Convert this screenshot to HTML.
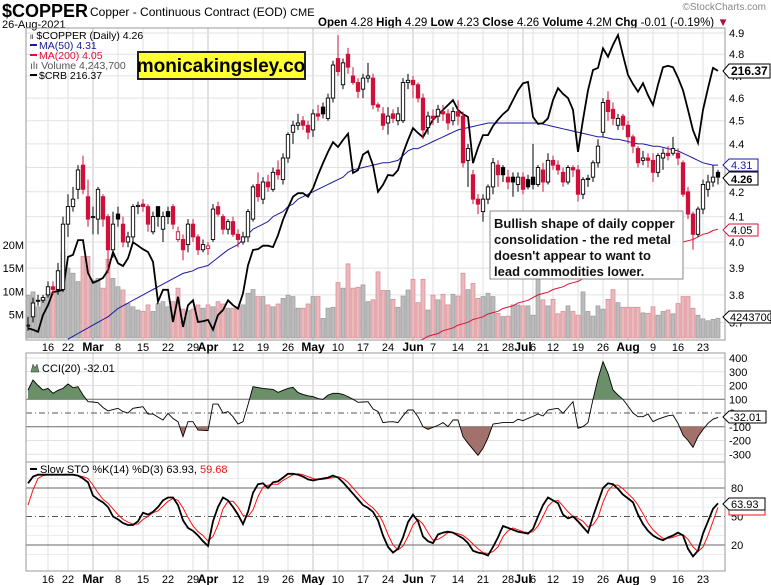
<!DOCTYPE html>
<html><head><meta charset="utf-8"><style>
html,body{margin:0;padding:0;background:#fff;}
svg{display:block;font-family:"Liberation Sans",Arial,sans-serif;}
</style></head><body>
<svg id="c" width="771" height="585" viewBox="0 0 771 585" xmlns="http://www.w3.org/2000/svg">
<defs>
<clipPath id="mainClip"><rect x="26" y="28" width="699" height="312"/></clipPath>
<clipPath id="cciUp"><rect x="26" y="353" width="699" height="46.25"/></clipPath>
<clipPath id="cciDn"><rect x="26" y="426.75" width="699" height="35"/></clipPath>
</defs>
<rect x="0" y="0" width="771" height="585" fill="#fff"/>
<text x="2" y="17" font-size="18" font-weight="bold" fill="#000">$COPPER</text>
<text x="90" y="16" font-size="12" fill="#000">Copper - Continuous Contract (EOD) <tspan font-size="11">CME</tspan></text>
<text x="2" y="28" font-size="11" fill="#000">26-Aug-2021</text>
<text x="766" y="10" font-size="10" fill="#888" text-anchor="end">©StockCharts.com</text>
<text x="318" y="26" font-size="11.5" fill="#000"><tspan font-weight="bold">Open</tspan> 4.28  <tspan font-weight="bold">High</tspan> 4.29  <tspan font-weight="bold">Low</tspan> 4.23  <tspan font-weight="bold">Close</tspan> 4.26  <tspan font-weight="bold">Volume</tspan> 4.2M  <tspan font-weight="bold">Chg</tspan> -0.01 (-0.19%) <tspan fill="#b0103a">▼</tspan></text>
<g id="grid"></g>
<g id="volume" clip-path="url(#mainClip)"></g>
<g id="ma" clip-path="url(#mainClip)"></g>
<g id="crb" clip-path="url(#mainClip)"></g>
<g id="candles" clip-path="url(#mainClip)"></g>
<g id="cci"></g>
<g id="sto"></g>
<g id="frames"></g>
<g id="labels"></g>
</svg>
<script>
const tickLabels=["16","22","Mar","8","15","22","29","Apr","12","19","26","May","10","17","24","Jun","7","14","21","28","Jul","6","12","19","26","Aug","9","16","23"];
const tickIdx=[4,8,13,18,23,28,33,36,42,47,52,57,62,67,72,77,81,86,91,96,99,101,105,110,115,120,125,130,135];
const opens=[3.69,3.72,3.78,3.78,3.80,3.83,3.82,3.82,4.07,4.14,4.21,4.31,4.18,4.10,4.09,4.18,4.10,3.97,4.11,4.07,4.00,4.02,4.14,4.15,4.14,4.04,4.14,4.05,4.12,4.14,4.01,4.01,3.99,4.07,4.02,3.97,3.975,4.01,4.14,4.10,4.05,4.08,4.03,4.00,4.02,4.09,4.23,4.17,4.24,4.21,4.29,4.25,4.34,4.45,4.48,4.50,4.48,4.46,4.53,4.56,4.51,4.60,4.78,4.66,4.80,4.70,4.67,4.64,4.69,4.69,4.57,4.53,4.49,4.53,4.50,4.50,4.67,4.68,4.66,4.60,4.47,4.52,4.52,4.54,4.53,4.50,4.54,4.52,4.33,4.27,4.17,4.12,4.17,4.22,4.31,4.30,4.26,4.26,4.23,4.26,4.25,4.26,4.23,4.29,4.24,4.33,4.31,4.28,4.24,4.30,4.29,4.19,4.25,4.26,4.32,4.45,4.59,4.55,4.48,4.52,4.48,4.43,4.38,4.33,4.34,4.33,4.28,4.34,4.36,4.36,4.36,4.32,4.20,4.11,4.03,4.13,4.21,4.24,4.28];
const highs=[3.72,3.79,3.80,3.80,3.85,3.85,3.92,4.10,4.19,4.22,4.31,4.35,4.25,4.14,4.22,4.19,4.11,4.12,4.14,4.10,4.04,4.15,4.16,4.17,4.15,4.12,4.14,4.12,4.14,4.15,4.06,4.03,4.09,4.09,4.03,4.01,4.00,4.15,4.16,4.11,4.09,4.10,4.05,4.04,4.13,4.23,4.28,4.26,4.27,4.30,4.33,4.36,4.45,4.50,4.53,4.52,4.50,4.55,4.57,4.58,4.62,4.77,4.89,4.78,4.83,4.74,4.69,4.71,4.76,4.71,4.58,4.56,4.56,4.55,4.56,4.69,4.71,4.70,4.67,4.62,4.54,4.55,4.57,4.57,4.55,4.56,4.59,4.54,4.40,4.29,4.19,4.19,4.23,4.34,4.33,4.31,4.29,4.28,4.28,4.28,4.27,4.40,4.31,4.32,4.36,4.35,4.33,4.30,4.31,4.31,4.31,4.26,4.27,4.33,4.42,4.60,4.63,4.58,4.53,4.53,4.50,4.44,4.39,4.37,4.36,4.36,4.36,4.38,4.39,4.43,4.38,4.33,4.22,4.12,4.14,4.25,4.27,4.31,4.29];
const lows=[3.67,3.70,3.76,3.77,3.79,3.80,3.80,3.81,4.02,4.12,4.17,4.19,4.06,4.03,4.03,4.06,3.88,3.94,4.06,3.98,3.98,4.00,4.11,4.12,4.04,4.03,4.06,4.00,4.07,4.05,4.00,3.93,3.96,4.00,3.95,3.96,3.95,4.00,4.10,4.03,4.03,4.02,3.98,3.99,4.00,4.08,4.16,4.15,4.20,4.20,4.25,4.23,4.32,4.40,4.46,4.46,4.42,4.43,4.50,4.51,4.50,4.58,4.70,4.64,4.71,4.66,4.60,4.60,4.67,4.55,4.54,4.46,4.44,4.49,4.48,4.49,4.64,4.60,4.58,4.42,4.44,4.48,4.49,4.50,4.46,4.48,4.48,4.30,4.22,4.15,4.11,4.08,4.15,4.19,4.22,4.24,4.21,4.18,4.20,4.19,4.21,4.21,4.22,4.20,4.23,4.29,4.27,4.22,4.23,4.26,4.16,4.17,4.22,4.24,4.30,4.43,4.50,4.48,4.46,4.46,4.40,4.36,4.30,4.31,4.30,4.24,4.26,4.29,4.33,4.35,4.31,4.18,4.09,3.97,4.02,4.11,4.18,4.22,4.23];
const closes=[3.69,3.77,3.78,3.79,3.83,3.82,3.89,4.07,4.14,4.17,4.29,4.21,4.09,4.10,4.21,4.09,3.97,4.07,4.09,4.00,4.02,4.14,4.145,4.14,4.07,4.10,4.10,4.10,4.10,4.07,4.04,3.97,4.07,4.02,3.97,3.99,3.985,4.13,4.11,4.05,4.08,4.03,4.01,4.02,4.12,4.22,4.18,4.24,4.22,4.28,4.27,4.34,4.44,4.48,4.49,4.48,4.45,4.53,4.52,4.53,4.60,4.75,4.72,4.76,4.74,4.67,4.63,4.69,4.70,4.57,4.56,4.48,4.52,4.51,4.53,4.67,4.68,4.66,4.60,4.46,4.52,4.51,4.55,4.53,4.49,4.54,4.52,4.32,4.38,4.17,4.15,4.17,4.22,4.32,4.27,4.27,4.24,4.24,4.26,4.21,4.22,4.23,4.30,4.24,4.33,4.31,4.29,4.24,4.30,4.29,4.19,4.25,4.255,4.32,4.39,4.58,4.54,4.51,4.51,4.48,4.43,4.39,4.32,4.34,4.33,4.28,4.35,4.36,4.35,4.38,4.34,4.19,4.11,4.03,4.13,4.23,4.24,4.26,4.26];
const volumes=[9.2,9.9,6.7,8.5,9.6,9.9,10.3,18.5,15.0,13.9,12.1,17.5,17.5,12.4,12.8,10.7,16.9,12.8,11.0,10.3,7.4,6.7,6.0,5.7,7.1,5.7,7.4,7.8,6.7,7.8,10.7,6.2,5.9,6.2,7.1,6.4,7.1,6.7,7.8,7.3,6.4,6.4,6.7,7.1,9.6,10.4,8.9,8.9,7.1,6.7,7.3,8.5,9.2,8.9,6.4,6.4,7.3,8.9,8.9,4.2,6.4,6.6,11.9,10.7,15.9,10.7,10.9,11.4,7.8,8.2,14.2,10.2,10.2,8.3,6.6,9.0,10.3,12.6,7.6,12.6,6.0,9.2,8.2,9.4,7.1,9.4,9.0,13.9,10.4,11.7,8.5,8.9,9.6,8.9,5.3,4.6,4.7,7.1,7.1,6.9,6.9,4.9,13.2,8.2,6.9,8.3,5.2,5.7,6.9,5.7,4.9,9.9,5.7,4.7,6.9,6.2,8.3,10.4,7.6,6.6,6.6,6.6,6.6,5.4,5.3,6.7,4.9,5.7,6.0,5.2,7.4,8.9,8.9,6.4,4.9,4.1,3.7,4.0,4.24];
const crb=[179.6,179.4,179.1,181.5,182.9,184.8,184.9,185.1,189.8,190.1,192.2,192.2,187.5,186.1,186.4,186.8,187.9,190.5,188.9,188.5,189.6,191.9,191.4,190.9,190.5,189.1,183.4,185.1,185.1,180.5,184.1,179.8,182.9,183.6,180.5,180.6,180.8,179.4,181.5,182.2,183.6,182.9,182.4,184.6,188.6,190.8,190.9,191.4,191.4,191.2,192.9,195.1,196.8,198.4,198.9,198.9,198.4,199.6,201.5,203.2,204.8,206.2,205.5,206.5,207.4,201.8,202.2,204.4,204.9,202.9,199.1,200.1,201.5,201.4,202.2,204.6,206.5,208.2,207.5,206.9,208.2,209.4,210.1,210.8,211.5,212.2,210.8,210.2,209.8,203.2,205.4,207.2,207.2,208.5,209.4,210.2,210.8,212.2,213.6,214.6,214.8,209.8,208.8,208.9,209.6,212.2,213.9,213.1,212.5,210.8,204.8,209.4,213.6,216.5,216.8,219.6,218.4,220.1,221.5,218.6,215.8,214.5,213.4,214.6,212.9,211.5,214.4,216.9,217.1,216.9,215.4,213.6,210.8,207.9,206.1,210.8,213.9,216.8,216.37];
const ma50=[null,null,null,null,null,null,null,null,3.64,3.65,3.66,3.67,3.68,3.69,3.70,3.71,3.72,3.735,3.75,3.76,3.77,3.78,3.79,3.80,3.81,3.82,3.83,3.84,3.85,3.86,3.87,3.88,3.885,3.89,3.90,3.905,3.91,3.925,3.94,3.955,3.97,3.98,3.99,4.01,4.03,4.05,4.06,4.07,4.08,4.10,4.11,4.12,4.14,4.15,4.17,4.18,4.19,4.20,4.21,4.22,4.23,4.24,4.25,4.26,4.28,4.29,4.295,4.30,4.305,4.31,4.315,4.32,4.32,4.325,4.33,4.35,4.37,4.38,4.38,4.39,4.40,4.41,4.42,4.43,4.44,4.45,4.46,4.465,4.47,4.475,4.48,4.485,4.49,4.49,4.49,4.49,4.49,4.49,4.49,4.49,4.49,4.49,4.49,4.485,4.48,4.475,4.47,4.465,4.46,4.455,4.45,4.445,4.44,4.435,4.43,4.43,4.425,4.42,4.42,4.415,4.41,4.405,4.40,4.40,4.395,4.39,4.39,4.385,4.38,4.375,4.37,4.36,4.35,4.34,4.33,4.32,4.315,4.31,4.31];
const ma200=[null,null,null,null,null,null,null,null,null,null,null,null,null,null,null,null,null,null,null,null,null,null,null,null,null,null,null,null,null,null,null,null,null,null,null,null,null,null,null,null,null,null,null,null,null,null,null,null,null,null,null,null,null,null,null,null,null,null,null,null,null,null,null,null,null,null,null,null,null,null,null,null,null,null,null,null,3.62,3.63,3.635,3.64,3.65,3.655,3.66,3.67,3.675,3.68,3.69,3.695,3.70,3.71,3.715,3.72,3.73,3.735,3.74,3.75,3.755,3.76,3.77,3.775,3.78,3.79,3.80,3.805,3.81,3.82,3.825,3.83,3.84,3.845,3.85,3.86,3.865,3.87,3.88,3.885,3.89,3.90,3.91,3.915,3.92,3.93,3.935,3.94,3.95,3.955,3.96,3.97,3.98,3.985,3.99,4.00,4.005,4.01,4.02,4.03,4.035,4.045,4.05];
const cci=[167,240,200,167,179,143,165,179,211,184,191,131,82,80,75,40,15,25,34,10,0,34,40,46,-7,-7,-30,-51,-2,-40,-63,-172,-63,-63,-124,-126,-128,65,65,0,10,-27,-80,-63,60,191,185,179,175,172,150,165,179,187,148,135,125,119,105,99,130,143,143,135,119,100,78,80,82,30,10,-70,-65,-63,-70,-20,22,22,-27,-100,-119,-104,-90,-70,-99,-51,-51,-172,-220,-264,-308,-257,-180,-80,-75,-70,-70,-70,-46,-56,-39,-25,-7,-22,22,28,34,-2,40,82,-111,-99,-70,100,250,373,288,167,130,99,50,0,-27,-27,-7,-63,-45,-32,-20,-15,-75,-160,-200,-250,-172,-120,-75,-45,-32.01];
const stoK=[85,92,94,94,94,94,94,94,94,94,93,90,86,72,68,65,60,50,47,43,41,41,45,54,52,55,60,67,70,70,62,46,38,35,30,24,19,45,60,70,67,60,52,42,55,75,84,85,80,86,87,91,95,95,94,92,89,88,89,90,91,93,91,86,80,74,68,62,59,55,46,30,18,12,16,28,44,52,45,29,24,22,31,33,34,33,30,27,22,14,12,11,9,18,28,40,38,36,34,33,32,37,50,62,70,67,64,52,48,50,45,39,33,50,65,80,85,84,79,73,69,65,52,42,35,30,27,25,28,30,33,30,16,8,14,32,45,58,63.93];
const stoD=[62,78,90,93,94,94,94,94,94,94,93,92,90,83,75,68,64,58,52,47,44,42,42,47,50,54,56,61,66,69,67,59,49,40,34,30,24,29,41,58,66,66,60,51,50,57,71,81,83,84,84,88,91,94,95,94,92,90,89,89,90,91,92,90,86,80,74,68,63,59,53,44,31,20,15,19,29,41,47,42,33,25,26,29,33,33,32,30,26,21,16,12,11,13,18,29,35,38,36,34,33,34,40,50,61,66,67,61,55,50,48,45,39,41,49,65,77,83,83,79,74,69,62,53,43,36,31,27,27,28,30,31,26,18,13,18,30,45,59.68];
const priceTicks=[4.9,4.8,4.7,4.6,4.5,4.4,4.3,4.2,4.1,4.0,3.9,3.8,3.7];
const volTicks=[5,10,15,20];
const cciTicks=[400,300,200,100,0,-100,-200,-300];
const stoTicks=[80,50,20];

const NS="http://www.w3.org/2000/svg";
function mk(tag,attrs,parent){const e=document.createElementNS(NS,tag);for(const k in attrs)e.setAttribute(k,attrs[k]);parent.appendChild(e);return e;}
const X=i=>28+5*i;
const PY=p=>33+Math.log(4.9/p)*1030;
const VY=v=>338-v*4.66;
const CY=v=>(226.5-v)*7;
const CCIY=c=>413-c*0.1375;
const SY=s=>564-s*0.95;
const L=26,R=725;
const g=id=>document.getElementById(id);
const grid=g('grid'),labels=g('labels'),frames=g('frames');

// vertical grid and date labels
tickIdx.forEach((ti,k)=>{
  const isMonth=isNaN(+tickLabels[k]);
  [[28,340],[353,462],[462,571]].forEach(([a,b])=>{
    const ln=mk('line',{x1:X(ti),x2:X(ti),y1:a,y2:b,stroke:isMonth?'#c4c4c4':'#e2e2e2','stroke-width':1},grid);
    
    
  });
  [351,583].forEach(yy=>{
    const t=mk('text',{x:X(ti),y:yy,'font-size':isMonth?12:11,'font-weight':isMonth?'bold':'normal','text-anchor':'middle',fill:'#000'},labels);
    t.textContent=tickLabels[k];
    
    
  });
});
// price grid and labels
priceTicks.forEach(p=>{
  const y=PY(p);
  if(y>28&&y<340){
    const ln=mk('line',{x1:L,x2:R,y1:y,y2:y,stroke:'#e2e2e2'},grid);
    
    
  }
  const t=mk('text',{x:729,y:y+4,'font-size':11,fill:'#000'},labels);
  t.textContent=p.toFixed(1);
  
  
});
volTicks.forEach(v=>{
  const t=mk('text',{x:24,y:VY(v)+4,'font-size':11,fill:'#000','text-anchor':'end'},labels);
  t.textContent=v+'M';
  
  
});
// volume
const vg=g('volume');
volumes.forEach((v,i)=>{
  const down=i>0&&closes[i]<closes[i-1];
  const r=mk('rect',{x:X(i)-2,y:VY(v),width:4,height:338-VY(v),fill:down?'#e9b9bd':'#bcbcbc',stroke:down?'#d98890':'#9a9a9a','stroke-width':0.7},vg);
  
  
});
// MAs
function linePath(arr,fy){let d='';arr.forEach((v,i)=>{if(v==null)return;d+=(d?'L':'M')+X(i)+','+fy(v).toFixed(1);});return d;}
const mg=g('ma');
let p1=mk('path',{d:linePath(ma200,PY),fill:'none',stroke:'#e0103a','stroke-width':1},mg);

let p2=mk('path',{d:linePath(ma50,PY),fill:'none',stroke:'#1a1aa0','stroke-width':1},mg);

let p3=mk('path',{d:linePath(crb,CY),fill:'none',stroke:'#000','stroke-width':1.8},g('crb'));

// candles
const cg=g('candles');
closes.forEach((c,i)=>{
  const o=opens[i],down=i>0&&c<closes[i-1];
  const col=down?'#d0103a':'#000';
  const hollow=c>=o;
  const w=mk('line',{x1:X(i),x2:X(i),y1:PY(highs[i]),y2:PY(lows[i]),stroke:col,'stroke-width':1},cg);
  
  const top=PY(Math.max(o,c)),bot=PY(Math.min(o,c));
  const b=mk('rect',{x:X(i)-1.7,y:top,width:3.4,height:Math.max(1,bot-top),fill:hollow?'#fff':col,stroke:col,'stroke-width':0.9},cg);
  
});
// CCI
const ccg=g('cci');
cciTicks.forEach(v=>{
  const y=CCIY(v);
  if(v===100||v===-100){const ln=mk('line',{x1:L,x2:R,y1:y,y2:y,stroke:'#666'},ccg);}
  else if(v===0){const ln=mk('line',{x1:L,x2:R,y1:y,y2:y,stroke:'#555','stroke-dasharray':'6,3,1,3'},ccg);}
  else{const ln=mk('line',{x1:L,x2:R,y1:y,y2:y,stroke:'#e2e2e2'},ccg);}
  const t=mk('text',{x:729,y:y+4,'font-size':11,fill:'#000'},labels);
  t.textContent=v;
});
const cciLine=linePath(cci,CCIY);
const n=cci.length-1;
const aUp=mk('path',{d:cciLine+'L'+X(n)+','+CCIY(100)+'L'+X(0)+','+CCIY(100)+'Z',fill:'#6b8f68',stroke:'none','clip-path':'url(#cciUp)'},ccg);

const aDn=mk('path',{d:cciLine+'L'+X(n)+','+CCIY(-100)+'L'+X(0)+','+CCIY(-100)+'Z',fill:'#a2716c',stroke:'none','clip-path':'url(#cciDn)'},ccg);

const cl=mk('path',{d:cciLine,fill:'none',stroke:'#000','stroke-width':0.9},ccg);

// STO
const sg=g('sto');
stoTicks.forEach(v=>{
  const y=SY(v);
  const ln=mk('line',{x1:L,x2:R,y1:y,y2:y,stroke:v===50?'#555':'#666','stroke-dasharray':v===50?'6,3,1,3':'none'},sg);
  
  const t=mk('text',{x:731,y:y+4,'font-size':11,fill:'#000'},labels);
  t.textContent=v;
});
[10,30,40,60,70,90].forEach(v=>{const ln=mk('line',{x1:L,x2:R,y1:SY(v),y2:SY(v),stroke:'#ececec'},sg);});
const sd=mk('path',{d:linePath(stoD,SY),fill:'none',stroke:'#ff1010','stroke-width':1},sg);

const sk=mk('path',{d:linePath(stoK,SY),fill:'none',stroke:'#000','stroke-width':1.8},sg);

// frames
[[26,28,699,312],[26,353,699,109],[26,462,699,109]].forEach(([x,y,w,h])=>{
  const r=mk('rect',{x:x,y:y,width:w,height:h,fill:'none',stroke:'#999'},frames);
  
});
</script>
<svg width="771" height="585" style="position:absolute;left:0;top:0">
<g font-family="Liberation Sans, Arial, sans-serif" font-size="10.5">
<text x="30" y="39">ₗₗ $COPPER (Daily) 4.26</text>
<line x1="30" y1="45" x2="37" y2="45" stroke="#1a1aa0" stroke-width="2"/>
<text x="39" y="49" fill="#1a1aa0">MA(50) 4.31</text>
<line x1="30" y1="55" x2="37" y2="55" stroke="#e0103a" stroke-width="2"/>
<text x="39" y="59" fill="#e0103a">MA(200) 4.05</text>
<text x="30" y="69" fill="#555">ılı Volume 4,243,700</text>
<line x1="30" y1="75" x2="37" y2="75" stroke="#000" stroke-width="2"/>
<text x="39" y="79">$CRB 216.37</text>
</g>
<rect x="138" y="52" width="167" height="27" fill="#ffff33" stroke="#222" stroke-width="2"/>
<text x="221" y="72" font-family="Liberation Sans, Arial, sans-serif" font-size="19" font-weight="bold" text-anchor="middle">monicakingsley.co</text>
<rect x="490" y="211" width="193" height="68" fill="#fff" stroke="#888" stroke-width="1"/>
<g font-family="Liberation Sans, Arial, sans-serif" font-size="13" font-weight="bold" fill="#111">
<text x="494" y="228">Bullish shape of daily copper</text>
<text x="494" y="244">consolidation - the red metal</text>
<text x="494" y="260">doesn't appear to want to</text>
<text x="494" y="276">lead commodities lower.</text>
</g>
<g font-family="Liberation Sans, Arial, sans-serif" font-size="11">
<path d="M723,71 L729,64 L770,64 L770,78 L729,78 Z" fill="#fff" stroke="#000"/>
<text x="731" y="75" font-weight="bold" font-size="12">216.37</text>
<path d="M723,165 L729,159 L758,159 L758,171 L729,171 Z" fill="#fff" stroke="#1a1aa0"/>
<text x="731" y="169" fill="#1a1aa0">4.31</text>
<path d="M723,178 L729,172 L758,172 L758,185 L729,185 Z" fill="#fff" stroke="#000"/>
<text x="731" y="183" font-weight="bold">4.26</text>
<path d="M723,230 L729,224 L758,224 L758,236 L729,236 Z" fill="#fff" stroke="#e0103a"/>
<text x="731" y="234" fill="#000">4.05</text>
<path d="M723,317 L729,311 L771,311 L771,323 L729,323 Z" fill="#fff" stroke="#000"/>
<text x="730" y="321">4243700</text>
<path d="M723,417 L729,411 L766,411 L766,423 L729,423 Z" fill="#fff" stroke="#000"/>
<text x="730" y="421">-32.01</text>
<rect x="729" y="503" width="36" height="12" fill="#fff" stroke="#ff1010"/>
<path d="M723,504 L729,498 L765,498 L765,510 L729,510 Z" fill="#fff" stroke="#000"/>
<text x="731" y="508">63.93</text>
<path d="M31,372 L33,364 L35,368 L37,364 L39,372 Z" fill="#6b8f68" stroke="#333" stroke-width="0.5"/>
<text x="42" y="372">CCI(20) -32.01</text>
<line x1="30" y1="469" x2="37" y2="469" stroke="#000" stroke-width="2"/>
<text x="40" y="473">Slow STO %K(14) %D(3) 63.93, <tspan fill="#ff1010">59.68</tspan></text>
</g>
</svg>
</body></html>
